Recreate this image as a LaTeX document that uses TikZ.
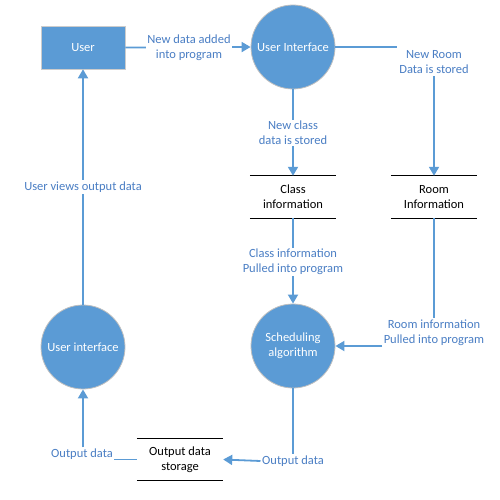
\documentclass[tikz,border=0pt]{standalone}
\usepackage{fontspec}
\setmainfont{Carlito}
\usetikzlibrary{arrows.meta}
\definecolor{fillblue}{HTML}{5B9BD5}
\definecolor{lineblue}{HTML}{5B9BD5}
\definecolor{textblue}{HTML}{4A7EC4}
\tikzset{
  proc/.style={circle, fill=fillblue, draw=black!25, line width=0.8pt, minimum size=84pt, inner sep=0pt, text=white, align=center, font=\fontsize{12.5}{15}\selectfont},
  ext/.style={rectangle, fill=fillblue, draw=black!20, line width=0.6pt, minimum width=84pt, minimum height=43pt, text=white, font=\fontsize{12.5}{15}\selectfont},
  store/.style={minimum width=86pt, minimum height=42pt, inner sep=0pt, align=center, font=\fontsize{12.5}{15}\selectfont, text=black},
  lab/.style={fill=white, text=textblue, align=center, inner sep=1.5pt, font=\fontsize{12.5}{15}\selectfont},
  flow/.style={draw=lineblue, line width=1.8pt},
  arr/.style={flow, -{Triangle[length=9pt,width=10pt]}},
}
\begin{document}
\begin{tikzpicture}[x=1pt,y=-1pt]
\useasboundingbox (0,0) rectangle (500,500);
% nodes
\node[ext] (user) at (83,47.5) {User};
\node[proc] (ui) at (293,47) {User Interface};
\node[store] (cls) at (293,197) {Class\\information};
\node[store] (room) at (434,197) {Room\\Information};
\node[proc] (sch) at (293,346) {Scheduling\\algorithm};
\node[proc] (ui2) at (83,347) {User interface};
\node[store] (out) at (180,459.5) {Output data\\storage};
% store lines
\foreach \n in {cls,room,out}{
  \draw[black, line width=0.9pt] (\n.north west) -- (\n.north east);
  \draw[black, line width=0.9pt] (\n.south west) -- (\n.south east);
}
% flows
\draw[arr] (user.east) -- (ui.west);
\node[lab] (l1) at (189,48) {New data added\\into program};

\node[lab, inner sep=2.5pt] (l2) at (434,62) {New Room\\Data is stored};
\draw[flow] (ui.east) -- (l2.west |- ui.east);
\draw[arr] (l2.south) -- (room.north);

\draw[arr] (ui.south) -- (cls.north);
\node[lab] (l3) at (293,133) {New class\\data is stored};

\draw[arr] (cls.south) -- (sch.north);
\node[lab] (l4) at (293,262) {Class information\\Pulled into program};

\node[lab, inner sep=1.5pt] (l5) at (434,333) {Room information\\Pulled into program};
\draw[flow] (room.south) -- (l5.north);
\draw[arr] (l5.west |- sch.east) -- (sch.east);

\node[lab] (l6) at (293,461) {Output data};
\draw[flow] (sch.south) -- (l6.north);
\draw[arr] (l6.west) -- (out.east);

\node[lab, inner sep=1pt] (l7) at (82,454) {Output data};
\draw[flow] (out.west) -- (l7.east |- out.west);
\draw[arr] (l7.north -| ui2.south) -- (ui2.south);

\draw[arr] (ui2.north) -- (user.south);
\node[lab] (l8) at (83,187) {User views output data};
\end{tikzpicture}
\end{document}
